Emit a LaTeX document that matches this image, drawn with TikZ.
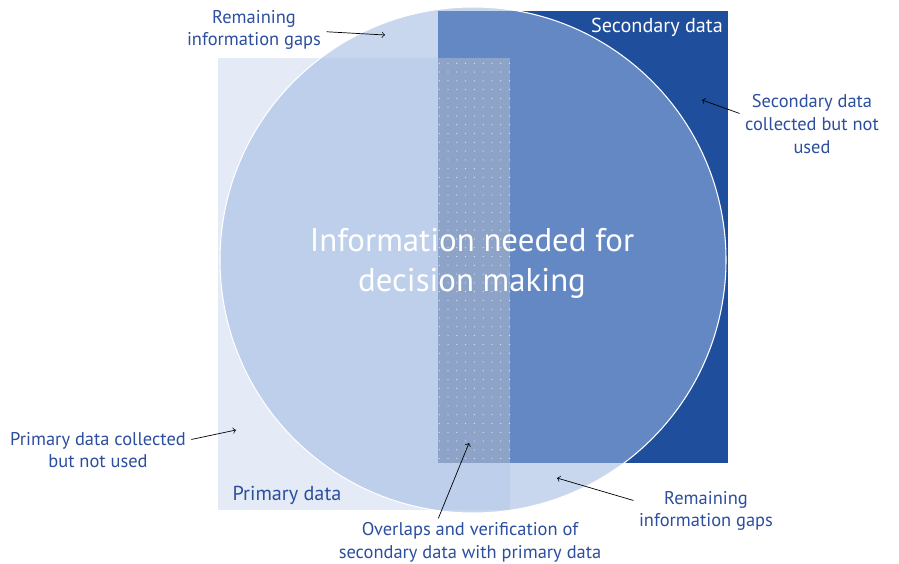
\documentclass[tikz,border=0pt]{standalone}
\usepackage{fontspec}
\setmainfont{PT Sans}
\usetikzlibrary{patterns.meta}

\definecolor{primlight}{HTML}{E4EBF6}
\definecolor{secdark}{HTML}{1F4E9C}
\definecolor{circwhite}{HTML}{C9D7EE}
\definecolor{circprim}{HTML}{BDCFEA}
\definecolor{circsec}{HTML}{6388C4}
\definecolor{overlapc}{HTML}{8EA3C8}
\definecolor{labelblue}{HTML}{2C4E9E}

\tikzset{
  lbl/.style={text=labelblue,font=\fontsize{10.5}{13}\selectfont,align=center,inner sep=1pt},
  setname/.style={font=\fontsize{11.5}{13}\selectfont,inner sep=1pt},
  pointer/.style={->,>=to,thin,black}
}

\begin{document}
\begin{tikzpicture}[x=0.02cm,y=-0.02cm]
  \useasboundingbox (0,0) rectangle (899,564);
  % the two data sets
  \fill[primlight] (218,58) rectangle (510,510);
  \fill[secdark] (438,11) rectangle (728,463);
  % needed information
  \fill[circwhite] (473,260) circle (253);
  \begin{scope}
    \clip (473,260) circle (253);
    \fill[circprim] (218,58) rectangle (510,510);
    \fill[circsec] (438,11) rectangle (728,463);
  \end{scope}
  \fill[overlapc] (438,58) rectangle (510,463);
  \fill[pattern={Dots[distance=5pt,radius=0.35pt]},pattern color=white!75!overlapc] (438,58) rectangle (510,463);
  \draw[white,line width=0.6pt] (473,260) circle (253);

  \node[setname,text=white] (secname) at (657,27) {Secondary data};
  \node[setname,text=labelblue] (primname) at (287,495) {Primary data};
  \node[text=white,font=\fontsize{18.7}{22.7}\selectfont,align=center] (maintxt) at (472,263)
    {Information needed for\\decision making};

  % labels round the outside
  \node[lbl] (gaptop) at (254,30) {Remaining\\information gaps};
  \node[lbl] (secunused) at (812,124) {Secondary data\\collected but not\\used};
  \node[lbl] (primunused) at (98,450) {Primary data collected\\but not used};
  \node[lbl] (overlaptxt) at (470,542) {Overlaps and verification of\\secondary data with primary data};
  \node[lbl] (gapbot) at (706,511) {Remaining\\information gaps};

  \coordinate (tipgaptop) at (385,35);
  \coordinate (tipsec) at (702,100);
  \coordinate (tipprim) at (236,430);
  \coordinate (tipoverlap) at (469,443);
  \coordinate (tipgapbot) at (557,478);

  \draw[pointer] ([xshift=2pt,yshift=-1pt]gaptop.east) -- (tipgaptop);
  \draw[pointer] ([xshift=-2pt,yshift=6pt]secunused.west) -- (tipsec);
  \draw[pointer] ([xshift=2pt,yshift=6pt]primunused.east) -- (tipprim);
  \draw[pointer] ([xshift=-18pt,yshift=1pt]overlaptxt.north) -- (tipoverlap);
  \draw[pointer] ([xshift=-2pt,yshift=6pt]gapbot.west) -- (tipgapbot);
\end{tikzpicture}
\end{document}
